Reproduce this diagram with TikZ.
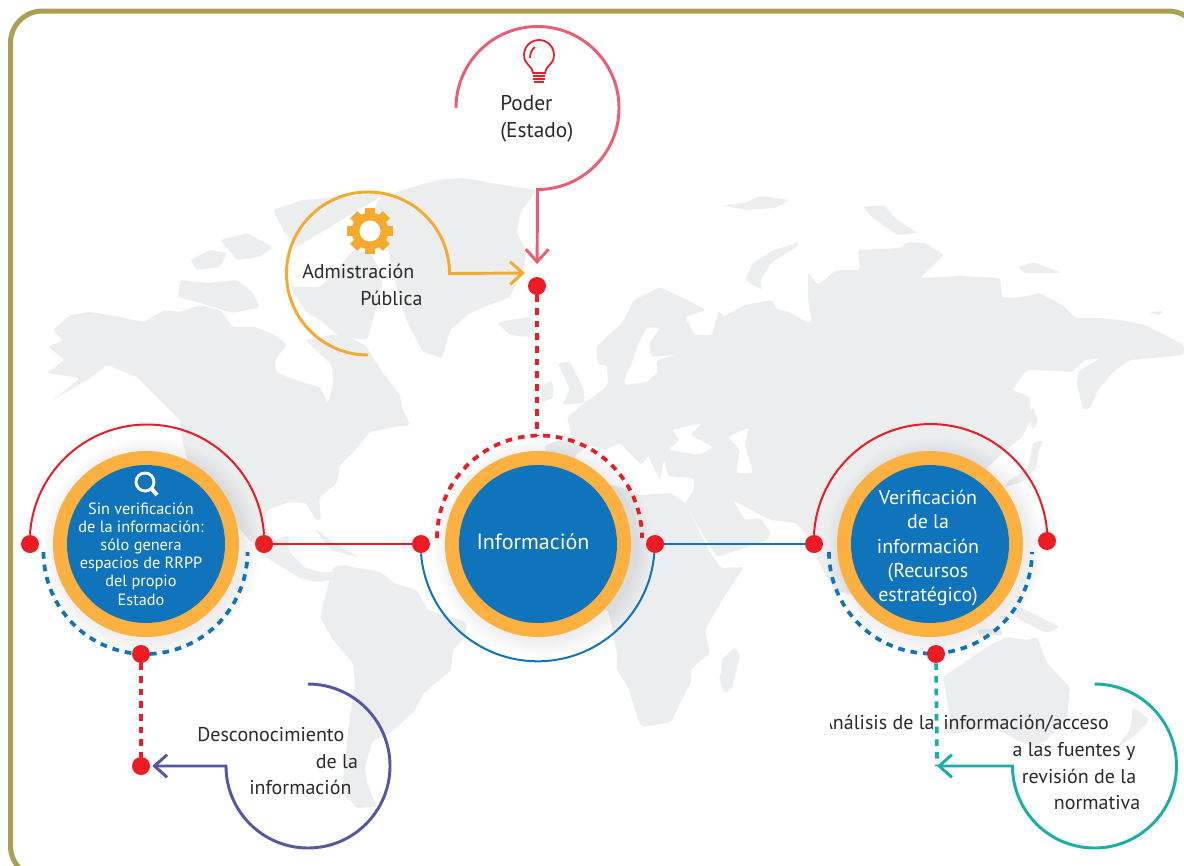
\documentclass[tikz,border=0pt]{standalone}
\usepackage{fontspec}
\setmainfont{PT Sans}
\usetikzlibrary{arrows, arrows.meta}
\usetikzlibrary{calc}
\definecolor{framecol}{HTML}{AC9F51}
\definecolor{landcol}{HTML}{ECEDEF}
\definecolor{ringcol}{HTML}{FBB040}
\definecolor{infocol}{HTML}{1074BC}
\definecolor{dotcol}{HTML}{ED1C24}
\definecolor{poderc}{HTML}{EE5C74}
\definecolor{adminc}{HTML}{F5A92D}
\definecolor{descoc}{HTML}{5357A6}
\definecolor{analic}{HTML}{17AFA8}
\definecolor{inkcol}{HTML}{2B2A29}
\tikzset{
  land/.style={fill=landcol, draw=none, rounded corners=2pt},
  sea/.style={fill=white, draw=none, rounded corners=2pt},
  ringnode/.style={circle, fill=ringcol, inner sep=0pt, minimum size=139.5pt},
  corenode/.style={circle, fill=infocol, inner sep=0pt, minimum size=118.5pt},
  dotnode/.style={circle, fill=dotcol, inner sep=0pt, minimum size=13.5pt},
  bigtxt/.style={text=inkcol, align=left, anchor=north west, inner sep=0pt, font=\fontsize{15}{20}\selectfont},
  whitetxt/.style={text=white, align=center, inner sep=0pt},
  redthin/.style={draw=dotcol, line width=1.5pt},
  bluethin/.style={draw=infocol, line width=1.5pt},
  reddash/.style={draw=dotcol, line width=2.8pt, dash pattern=on 5pt off 4.5pt},
  bluedash/.style={draw=infocol, line width=2.8pt, dash pattern=on 5pt off 4.5pt},
  tealdash/.style={draw=analic, line width=2.8pt, dash pattern=on 5pt off 4.5pt},
  callout/.style={line width=2.2pt, -{Straight Barb[length=9.5pt,width=17pt]}}
}
\begin{document}
\begin{tikzpicture}[x=0.75pt, y=-0.75pt]
  \useasboundingbox (0,0) rectangle (1184,865);
  \fill[white] (0,0) rectangle (1184,865);

  \fill[land] (53,330) -- (70,315) -- (90,312) -- (120,317) -- (143,322) -- (165,310) -- (180,312) -- (200,305) -- (220,310) -- (233,327) -- (255,327) -- (275,335) -- (287,345) -- (275,360) -- (276,372) -- (295,380) -- (320,387) -- (328,403) -- (333,385) -- (332,365) -- (305,340) -- (330,335) -- (345,335) -- (365,345) -- (383,373) -- (400,395) -- (402,408) -- (410,425) -- (395,427) -- (370,432) -- (355,450) -- (340,465) -- (337,483) -- (319,498) -- (321,520) -- (316,520) -- (306,503) -- (289,502) -- (267,510) -- (265,530) -- (275,540) -- (289,535) -- (288,550) -- (305,568) -- (320,572) -- (332,572) -- (340,575) -- (333,580) -- (315,582) -- (300,578) -- (270,560) -- (245,535) -- (190,470) -- (182,440) -- (180,420) -- (157,397) -- (137,377) -- (107,365) -- (90,378) -- (53,400) -- (80,378) -- (47,373) -- (65,360) -- (48,347) -- (63,340) -- cycle;
  \fill[land] (180,280) -- (207,283) -- (237,280) -- (253,293) -- (260,307) -- (233,313) -- (200,303) -- (178,297) -- cycle;
  \fill[land] (190,260) -- (210,250) -- (227,253) -- (220,267) -- (197,270) -- cycle;
  \fill[land] (220,240) -- (247,233) -- (273,247) -- (260,257) -- (237,260) -- cycle;
  \fill[land] (273,210) -- (303,200) -- (387,193) -- (370,203) -- (320,233) -- (297,247) -- (283,230) -- cycle;
  \fill[land] (290,287) -- (320,287) -- (337,270) -- (353,250) -- (370,253) -- (380,270) -- (383,283) -- (373,320) -- (367,340) -- (340,337) -- (320,320) -- (307,313) -- cycle;
  \fill[land] (380,197) -- (437,180) -- (463,178) -- (503,185) -- (537,190) -- (520,213) -- (517,233) -- (527,253) -- (520,277) -- (510,297) -- (470,313) -- (450,330) -- (442,358) -- (423,352) -- (410,327) -- (405,317) -- (392,270) -- (385,230) -- (372,215) -- cycle;
  \fill[land] (497,323) -- (510,320) -- (530,317) -- (540,327) -- (527,337) -- (510,335) -- cycle;
  \fill[land] (314,528) -- (330,540) -- (360,558) -- (331,550) -- cycle;

  \fill[land] (333,567) -- (342,565) -- (381,572) -- (394,583) -- (417,590) -- (428,610) -- (467,622) -- (465,637) -- (453,650) -- (451,670) -- (442,678) -- (424,693) -- (415,710) -- (397,727) -- (387,735) -- (373,740) -- (365,767) -- (367,783) -- (377,807) -- (357,808) -- (343,793) -- (343,777) -- (350,717) -- (355,683) -- (353,663) -- (333,640) -- (320,617) -- cycle;

  \fill[land] (500,480) -- (590,480) -- (620,487) -- (640,495) -- (671,493) -- (685,503) -- (710,553) -- (721,568) -- (744,567) -- (724,597) -- (705,630) -- (710,653) -- (690,670) -- (692,680) -- (685,693) -- (671,722) -- (644,727) -- (639,723) -- (628,687) -- (617,670) -- (617,653) -- (608,610) -- (500,610) -- cycle;
  \fill[land] (735,647) -- (740,657) -- (731,690) -- (724,693) -- (719,677) -- (722,670) -- (721,660) -- cycle;

  \fill[land] (596,347) -- (622,323) -- (634,300) -- (660,287) -- (681,297) -- (706,310) -- (685,317) -- (695,335) -- (712,335) -- (719,310) -- (723,317) -- (745,305) -- (772,300) -- (776,309) -- (790,312) -- (800,318) -- (808,323) -- (812,322) -- (808,300) -- (808,272) -- (818,285) -- (836,270) -- (860,270) -- (858,250) -- (900,248) -- (908,242) -- (925,243) -- (944,255) -- (920,278) -- (960,276) -- (1000,278) -- (1002,298) -- (1022,297) -- (1040,293) -- (1062,305) -- (1076,318) -- (1100,318) -- (1120,320) -- (1145,325) -- (1184,345) -- (1184,355) -- (1153,358) -- (1130,360) -- (1113,372) -- (1098,390) -- (1090,408) -- (1083,410) -- (1077,385) -- (1078,372) -- (1100,358) -- (1085,360) -- (1072,372) -- (1040,370) -- (1027,370) -- (1012,390) -- (1030,397) -- (1031,420) -- (1022,437) -- (1000,455) -- (985,470) -- (995,500) -- (960,560) -- (900,590) -- (870,600) -- (835,590) -- (825,575) -- (807,535) -- (796,523) -- (770,520) -- (755,512) -- (733,500) -- (745,520) -- (760,518) -- (771,533) -- (767,540) -- (739,550) -- (717,557) -- (700,530) -- (685,503) -- (694,490) -- (694,478) -- (668,476) -- (664,460) -- (660,480) -- (648,455) -- (642,465) -- (620,443) -- (605,450) -- (590,445) -- (575,455) -- (572,478) -- (548,475) -- (545,445) -- (572,437) -- (567,418) -- (584,403) -- (605,388) -- (608,385) -- (607,365) -- (598,365) -- cycle;
  \fill[sea] (637,347) -- (647,327) -- (660,328) -- (649,343) -- (651,357) -- (675,355) -- (656,360) -- (658,372) -- (647,382) -- (625,385) -- (624,380) -- (632,363) -- cycle;
  \fill[sea] (668,450) -- (680,440) -- (672,430) -- (702,423) -- (690,435) -- (713,447) -- (700,455) -- cycle;
  \fill[sea] (728,437) -- (749,427) -- (745,445) -- (753,473) -- (736,473) -- (740,450) -- cycle;
  \fill[land] (558,363) -- (570,362) -- (584,390) -- (584,403) -- (562,405) -- (570,390) -- cycle;
  \fill[land] (541,387) -- (552,380) -- (554,398) -- (542,402) -- cycle;
  \fill[land] (745,280) -- (753,263) -- (774,250) -- (800,242) -- (795,248) -- (772,262) -- (760,280) -- (762,290) -- cycle;
  \fill[land] (722,205) -- (745,203) -- (760,196) -- (790,200) -- (775,208) -- (745,210) -- cycle;
  \fill[land] (863,207) -- (884,205) -- (897,220) -- (918,233) -- (897,235) -- (872,217) -- cycle;
  \fill[land] (1018,267) -- (1033,262) -- (1062,273) -- (1045,273) -- (1024,273) -- cycle;
  \fill[land] (1149,312) -- (1164,311) -- (1160,315) -- cycle;
  \fill[land] (1010,480) -- (1028,468) -- (1033,443) -- (1043,440) -- (1038,453) -- (1037,467) -- (1020,483) -- (1003,487) -- cycle;
  \fill[land] (1033,407) -- (1038,420) -- (1033,430) -- (1028,417) -- cycle;
  \fill[land] (1020,607) -- (1060,627) -- (1047,633) -- (1020,620) -- (1013,613) -- cycle;
  \fill[land] (977,630) -- (1000,628) -- (1003,635) -- (980,636) -- cycle;
  \fill[land] (943,677) -- (993,643) -- (1007,637) -- (1027,640) -- (1037,637) -- (1047,663) -- (1070,687) -- (1067,717) -- (1047,740) -- (1033,747) -- (1017,740) -- (993,727) -- (960,733) -- (943,733) -- (950,717) -- cycle;
  \fill[land] (1133,707) -- (1150,720) -- (1133,737) -- (1117,747) -- (1130,730) -- cycle;

  \draw[framecol, line width=3.75pt, rounded corners=24pt] (10.5,11) rectangle (1200,878);

  \foreach \cx in {146,538,930} {
    \foreach \k in {1,...,9} {
      \fill[black, opacity=0.009] (\cx+5,547) circle ({92+1.9*\k});
    }
  }

  \draw[reddash] (437,538) arc (180:360:102.5);
  \draw[bluedash] (43.5,552) arc (180:0:102);
  \draw[bluedash] (829,552) arc (180:0:101.5);

  \node[ringnode] (ringsin) at (146,544) {};
  \node[ringnode] (ringinfo) at (538,544) {};
  \node[ringnode] (ringver) at (930,544) {};
  \node[corenode] (coresin) at (146,544) {};
  \node[corenode] (coreinfo) at (538,544) {};
  \node[corenode] (corever) at (930,544) {};

  \node[dotnode] (dotsinl) at (30,544) {};
  \node[dotnode] (dotsinr) at (264,544) {};
  \node[dotnode] (dotsinb) at (141,654) {};
  \node[dotnode] (dotdes) at (141,766) {};
  \node[dotnode] (dotinfol) at (421,544) {};
  \node[dotnode] (dotinfor) at (655,544) {};
  \node[dotnode] (dottop) at (537,286) {};
  \node[dotnode] (dotverl) at (814,544) {};
  \node[dotnode] (dotverr) at (1047,541) {};
  \node[dotnode] (dotverb) at (936,654) {};

  \coordinate (podstart) at (456,108);
  \coordinate (admstart) at (368,355);
  \coordinate (admtip) at (525,273);
  \coordinate (desstart) at (308,684);
  \coordinate (anastart) at (1094.5,684);
  \coordinate (anatip) at (937,766);

  \draw[redthin] (dotsinl.north) arc (183.4:356.6:117.2);
  \draw[redthin] (dotverl.north) arc (183:355.6:116.8);
  \draw[bluethin] (dotinfol.south) arc (175.6:4.4:117);
  \draw[redthin] (dotsinr) -- (dotinfol);
  \draw[bluethin] (dotinfor) -- (dotverl);

  \draw[reddash] (dottop) -- (537,435);
  \draw[reddash] (dotsinb) -- (dotdes);

  \node[bigtxt, font=\fontsize{16}{20.2}\selectfont] (txtpoder) at (500,95) {Poder\\(Estado)};
  \node[bigtxt] (txtadmin) at (302,264) {Admistración\\\hspace*{43.5pt}Pública};
  \node[bigtxt] (txtdesco) at (197,727) {Desconocimiento\\\hspace*{89pt}de la\\\hspace*{39pt}información};
  \begin{scope}
    \clip (830,700) rectangle (1184,840);
    \node[bigtxt] (txtanali) at (821,715) {Análisis de la\hspace{6.5pt}información/acceso\\\hspace*{143.5pt}a las fuentes y\\\hspace*{150.5pt}revisión de la\\\hspace*{174.5pt}normativa};
  \end{scope}

  \draw[tealdash] (dotverb) -- (anatip);

  \draw[callout, poderc, shorten >=9.5pt] (podstart) arc (180:450:81.5) -- (dottop);
  \draw[callout, adminc] (admstart) arc (90:360:81.5) -- (admtip);
  \draw[callout, descoc, shorten >=1.5pt] (desstart) arc (270:540:82) -- (dotdes);
  \draw[callout, analic] (anastart) arc (270:540:82) -- (anatip);

  \node[whitetxt, font=\fontsize{12.2}{13.6}\selectfont] (txtsin) at (141,554) {Sin verificación\\de la información:\\sólo genera\\espacios de RRPP\\del propio\\Estado};
  \node[whitetxt, font=\fontsize{16.5}{20}\selectfont] (txtinfo) at (533,542) {Información};
  \node[whitetxt, font=\fontsize{15}{18.2}\selectfont] (txtver) at (928,548) {Verificación\\de la\\información\\(Recursos\\estratégico)};

  \draw[white, line width=2.2pt] (145,482) circle (9);
  \draw[white, line width=3pt] (151.5,488.5) -- (157,495);

  \draw[adminc, line width=6pt] (370,231) circle (14.5);
  \foreach \a in {0,45,...,315} {
    \fill[adminc, rotate around={\a:(370,231)}] (365,208) rectangle (375,218);
  }

  \draw[dotcol, line width=1.3pt] (533,73) .. controls (533,66) and (524,65) .. (524,55) arc (180:360:15) .. controls (554,65) and (545,66) .. (545,73) -- cycle;
  \draw[dotcol, line width=1.3pt] (530,58) .. controls (530,53) and (532,49) .. (535,47);
  \draw[dotcol, line width=1.3pt] (533,76) -- (545,76);
  \draw[dotcol, line width=1.3pt] (533,79) -- (545,79);
  \draw[dotcol, line width=1.3pt] (534,82) -- (544,82);
\end{tikzpicture}
\end{document}
